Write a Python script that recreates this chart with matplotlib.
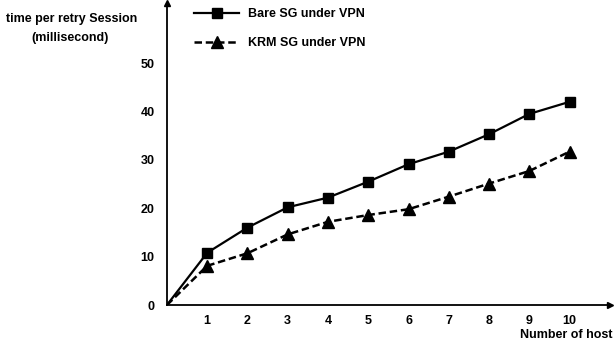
import matplotlib
matplotlib.use("Agg")
import matplotlib.pyplot as plt

plt.rcParams['font.family'] = ['Liberation Sans', 'DejaVu Sans']
plt.rcParams['font.weight'] = 'bold'

hosts = [0, 1, 2, 3, 4, 5, 6, 7, 8, 9, 10]
bare_sg = [0, 10.8, 16.0, 20.2, 22.2, 25.5, 29.1, 31.7, 35.3, 39.5, 42.0]
krm_sg = [0, 8.1, 10.7, 14.6, 17.2, 18.6, 19.8, 22.4, 25.1, 27.7, 31.7]
x_ticks = [1, 2, 3, 4, 5, 6, 7, 8, 9, 10]
y_ticks = [0, 10, 20, 30, 40, 50]


def main():
    fig = plt.figure(figsize=(6.16, 3.47), dpi=100)
    ax = fig.add_axes([0.271, 0.121, 0.719, 0.870])

    ax.plot(hosts, bare_sg, color='black', linestyle='-', linewidth=1.6,
            marker='s', markersize=6.5, markevery=list(range(1, len(hosts))),
            label='Bare SG under VPN')
    ax.plot(hosts, krm_sg, color='black', linestyle='--', linewidth=1.8,
            dashes=(3, 1.5), marker='^', markersize=8,
            markevery=list(range(1, len(hosts))),
            label='KRM SG under VPN')

    ax.set_xlim(0, 11.0)
    ax.set_ylim(0, 62.4)

    # arrow-style axes
    for s in ['top', 'right']:
        ax.spines[s].set_visible(False)
    for s in ['left', 'bottom']:
        ax.spines[s].set_linewidth(1.3)
    ax.plot(1, 0, '>k', markersize=5, transform=ax.get_yaxis_transform(), clip_on=False)
    ax.plot(0, 1, '^k', markersize=5, transform=ax.get_xaxis_transform(), clip_on=False)

    ax.set_xticks(x_ticks)
    ax.set_yticks(y_ticks)
    ax.tick_params(length=0, labelsize=9, pad=7)
    ax.tick_params(axis='y', pad=9)

    fig.text(0.995, 0.035, 'Number of host', ha='right', va='center', fontsize=9)
    fig.text(0.117, 0.945, 'time per retry Session', ha='center', va='center', fontsize=9)
    fig.text(0.113, 0.89, '(millisecond)', ha='center', va='center', fontsize=9)

    fig.legend(loc='upper left', bbox_to_anchor=(0.297, 1.008), frameon=False,
               fontsize=9, handlelength=3.6, labelspacing=1.35, handletextpad=0.7)

    fig.savefig('out.png', dpi=100)


if __name__ == "__main__":
    main()
